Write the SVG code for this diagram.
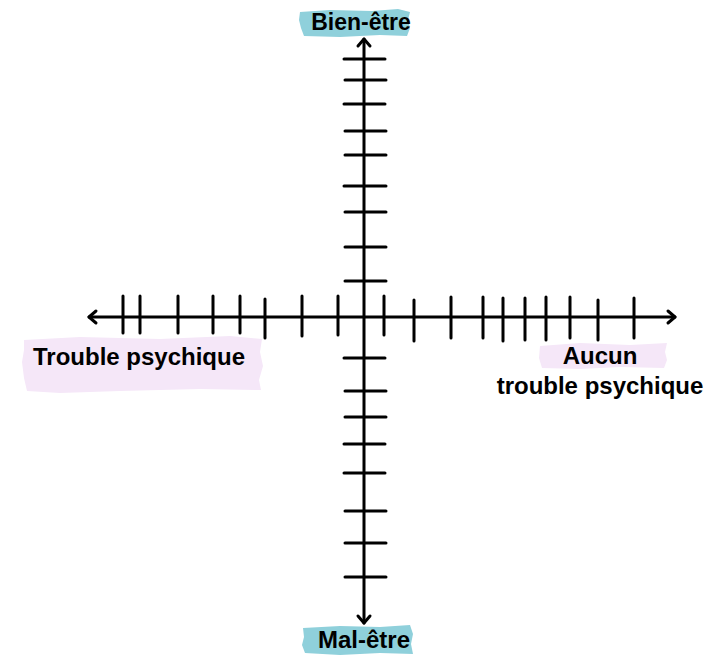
<svg xmlns="http://www.w3.org/2000/svg" width="722" height="656" viewBox="0 0 722 656">
<style>
.ax{stroke:#000;stroke-width:3;fill:none;stroke-linecap:round}
.tk{stroke:#000;stroke-width:3;fill:none;stroke-linecap:round}
.hd{stroke:#000;stroke-width:3;fill:none;stroke-linecap:round;stroke-linejoin:round}
.lb{font-family:"Liberation Sans",Arial,sans-serif;font-weight:bold;font-size:24px;fill:#000}
.teal{fill:#8fd0db}
.pink{fill:#f5e7f8}
</style>
<rect width="722" height="656" fill="#fff"/>
<g id="axes">
<line class="ax" x1="89" y1="317" x2="675" y2="317"/>
<line class="ax" x1="364" y1="39" x2="364" y2="623"/>
<path class="hd" d="M96,311 L89,317 L96,323"/>
<path class="hd" d="M668,311 L675,317 L668,323"/>
<path class="hd" d="M358,46 L364,39 L370,46"/>
<path class="hd" d="M358,616 L364,623 L370,616"/>
</g>
<g id="ticks-h">
<line class="tk" x1="123" y1="296" x2="123" y2="333"/>
<line class="tk" x1="140" y1="296" x2="140" y2="333"/>
<line class="tk" x1="178" y1="296" x2="178" y2="333"/>
<line class="tk" x1="213" y1="296" x2="213" y2="333"/>
<line class="tk" x1="240" y1="296" x2="240" y2="333"/>
<line class="tk" x1="265" y1="299" x2="265" y2="338"/>
<line class="tk" x1="302" y1="296" x2="302" y2="336"/>
<line class="tk" x1="338" y1="296" x2="338" y2="335"/>
<line class="tk" x1="384" y1="296" x2="384" y2="335"/>
<line class="tk" x1="414" y1="300" x2="414" y2="341"/>
<line class="tk" x1="451" y1="297" x2="451" y2="338"/>
<line class="tk" x1="483" y1="297" x2="483" y2="338"/>
<line class="tk" x1="503" y1="298" x2="503" y2="341"/>
<line class="tk" x1="525" y1="298" x2="525" y2="340"/>
<line class="tk" x1="546" y1="297" x2="546" y2="340"/>
<line class="tk" x1="570" y1="297" x2="570" y2="338"/>
<line class="tk" x1="598" y1="300" x2="598" y2="340"/>
<line class="tk" x1="634" y1="298" x2="634" y2="338"/>
</g>
<g id="ticks-v">
<line class="tk" x1="344" y1="59" x2="385" y2="59"/>
<line class="tk" x1="345" y1="80" x2="386" y2="80"/>
<line class="tk" x1="344" y1="104" x2="385" y2="104"/>
<line class="tk" x1="345" y1="131" x2="386" y2="131"/>
<line class="tk" x1="345" y1="155" x2="386" y2="155"/>
<line class="tk" x1="344" y1="186" x2="386" y2="186"/>
<line class="tk" x1="345" y1="212" x2="386" y2="212"/>
<line class="tk" x1="345" y1="247" x2="386" y2="247"/>
<line class="tk" x1="345" y1="281" x2="386" y2="281"/>
<line class="tk" x1="344" y1="358" x2="385" y2="358"/>
<line class="tk" x1="345" y1="391" x2="386" y2="391"/>
<line class="tk" x1="345" y1="417" x2="386" y2="417"/>
<line class="tk" x1="344" y1="444" x2="385" y2="444"/>
<line class="tk" x1="344" y1="473" x2="385" y2="473"/>
<line class="tk" x1="345" y1="511" x2="386" y2="511"/>
<line class="tk" x1="345" y1="543" x2="386" y2="543"/>
<line class="tk" x1="345" y1="577" x2="386" y2="577"/>
</g>
<g id="label-top">
<path class="teal" d="M300,12 L330,10 L372,11 L398,9 L410,12 L408,20 L410,28 L407,36 L380,35 L340,37 L304,36 L301,28 L299,20 Z"/>
<text class="lb" x="361" y="30" text-anchor="middle" style="font-size:23px">Bien-être</text>
</g>
<g id="label-bottom">
<path class="teal" d="M303,628 L340,626 L380,627 L410,625 L413,634 L411,644 L413,654 L380,653 L340,655 L305,653 L302,645 L304,637 Z"/>
<text class="lb" x="364" y="648" text-anchor="middle">Mal-être</text>
</g>
<g id="label-left">
<path class="pink" d="M24,340 L80,337 L160,339 L230,336 L262,339 L260,352 L263,366 L259,380 L261,390 L200,389 L120,391 L60,393 L27,391 L24,378 L22,362 L24,350 Z"/>
<text class="lb" x="33" y="365">Trouble psychique</text>
</g>
<g id="label-right">
<path class="pink" d="M540,346 L580,343 L630,345 L667,343 L665,352 L667,360 L664,368 L620,367 L580,369 L542,368 L539,358 Z"/>
<text class="lb" x="600" y="364" text-anchor="middle">Aucun</text>
<text class="lb" x="600" y="394" text-anchor="middle">trouble psychique</text>
</g>
</svg>
